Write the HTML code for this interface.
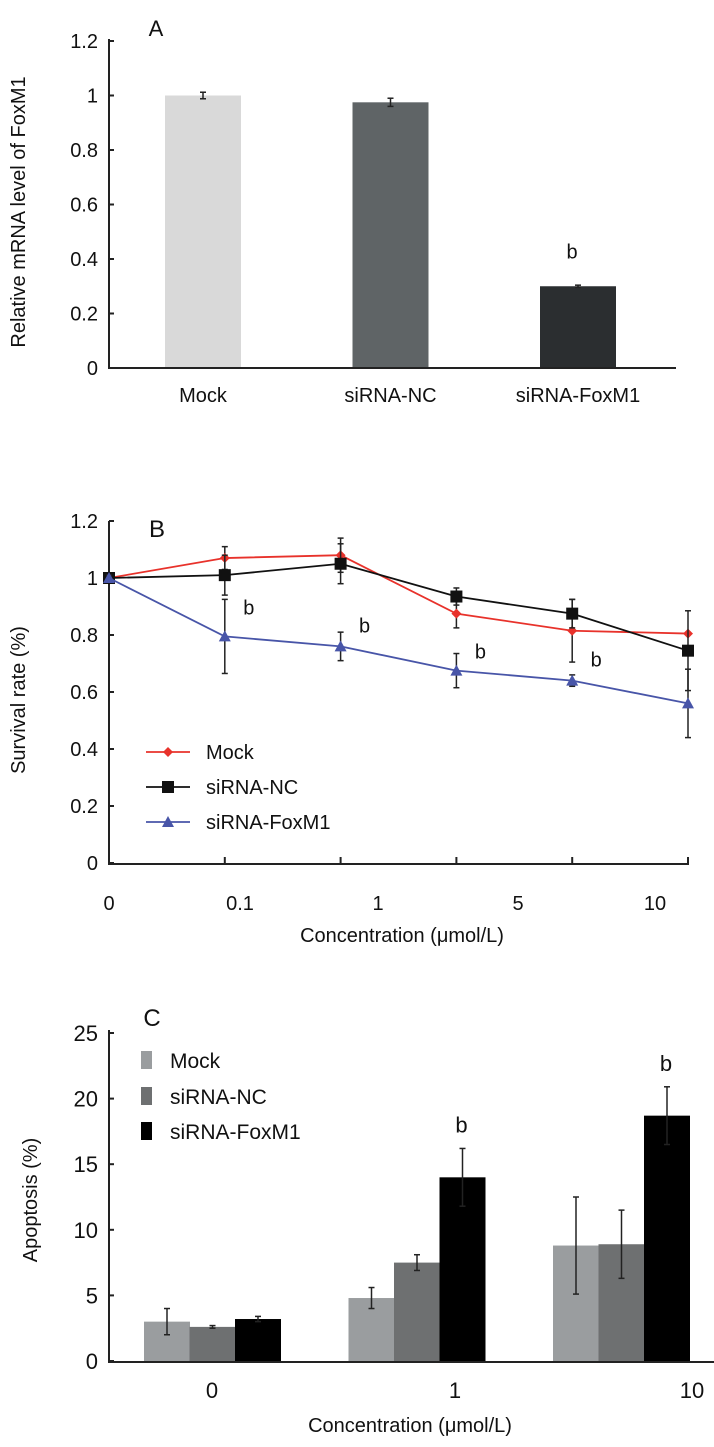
<!DOCTYPE html>
<html><head><meta charset="utf-8">
<style>
html,body{margin:0;padding:0;background:#fff;}
svg{display:block;font-family:"Liberation Sans",sans-serif;}
text{fill:#111;}
</style></head>
<body>
<svg id="fig" width="714" height="1447" viewBox="0 0 714 1447"></svg>
<script>
// Panel A data
const aCats = ["Mock","siRNA-NC","siRNA-FoxM1"];
const aVals = [1.0, 0.975, 0.30];
const aErr = [0.012, 0.015, 0.004];
const aTicks = [0,0.2,0.4,0.6,0.8,1,1.2];
const aTickLabels = ["0","0.2","0.4","0.6","0.8","1","1.2"];
// Panel B data
const bCats = ["0","0.1","1","5","10"];
const bMock = [1.0, 1.07, 1.08, 0.875, 0.815, 0.805];
const bMockErr = [0.01, 0.04, 0.06, 0.05, 0.11, 0.0];
const bNC = [1.0, 1.01, 1.05, 0.935, 0.875, 0.745];
const bNCErr = [0.01, 0.07, 0.07, 0.03, 0.05, 0.14];
const bFox = [1.0, 0.795, 0.76, 0.675, 0.64, 0.56];
const bFoxErr = [0.01, 0.13, 0.05, 0.06, 0.02, 0.12];
const bTicks = [0,0.2,0.4,0.6,0.8,1,1.2];
const bTickLabels = ["0","0.2","0.4","0.6","0.8","1","1.2"];
// Panel C data
const cCats = ["0","1","10"];
const cMock = [3.0, 4.8, 8.8];
const cMockErr = [1.0, 0.8, 3.7];
const cNC = [2.6, 7.5, 8.9];
const cNCErr = [0.1, 0.6, 2.6];
const cFox = [3.2, 14.0, 18.7];
const cFoxErr = [0.2, 2.2, 2.2];
const cTicks = [0,5,10,15,20,25];

const NS="http://www.w3.org/2000/svg";
const svg=document.getElementById('fig');
function el(tag,attrs,parent){const e=document.createElementNS(NS,tag);for(const k in attrs)e.setAttribute(k,attrs[k]);(parent||svg).appendChild(e);return e;}
function txt(s,x,y,size,anchor,parent){const t=el('text',{x:x,y:y,'font-size':size,'text-anchor':anchor||'middle'},parent);t.textContent=s;return t;}
function errbar(g,x,y1,y2,cap,col){el('line',{x1:x,x2:x,y1:y1,y2:y2,stroke:col,'stroke-width':1.5},g);el('line',{x1:x-cap,x2:x+cap,y1:y1,y2:y1,stroke:col,'stroke-width':1.5},g);el('line',{x1:x-cap,x2:x+cap,y1:y2,y2:y2,stroke:col,'stroke-width':1.5},g);}

// ===== Panel A =====
(function(){
const g=el('g',{});


const y=v=>368-v*(368-41)/1.2;
const x=i=>203+i*187.5;
const cols=["#d9d9d9","#5f6466","#2b2e30"];
aVals.forEach((v,i)=>{
  const r=el('rect',{x:x(i)-38,y:y(v),width:76,height:368-y(v),fill:cols[i]},g);
  
  
  errbar(g,x(i),y(v+aErr[i]),y(v-aErr[i]),3,'#222');
  const l=txt(aCats[i],x(i),402,20,'middle',g);
  
  
});
el('line',{x1:109,x2:109,y1:39,y2:368,stroke:'#222','stroke-width':2},g);
el('line',{x1:108,x2:676,y1:368,y2:368,stroke:'#222','stroke-width':2},g);
aTicks.forEach((t,i)=>{el('line',{x1:109,x2:114,y1:y(t),y2:y(t),stroke:'#222','stroke-width':2},g);
 const l=txt(aTickLabels[i],98,y(t)+7,20,'end',g);
 
 });
const tt=txt('Relative mRNA level of FoxM1',0,0,20,'middle',g);tt.setAttribute('transform','translate(25,212) rotate(-90)');


const p=txt('A',156,36,22,'middle',g);


const b=txt('b',x(2)-6,y(0.3)-28,20,'middle',g);


})();

// ===== Panel B =====
(function(){
const g=el('g',{});


const y=v=>863-v*(863-521)/1.2;
const x=i=>109+i*115.8;
el('line',{x1:109,x2:109,y1:521,y2:864,stroke:'#222','stroke-width':2},g);
el('line',{x1:108,x2:689,y1:864,y2:864,stroke:'#222','stroke-width':2},g);
bTicks.forEach((t,i)=>{el('line',{x1:109,x2:114,y1:y(t),y2:y(t),stroke:'#222','stroke-width':2},g);
 const l=txt(bTickLabels[i],98,y(t)+7,20,'end',g);
 
 });
for(let i=1;i<=5;i++)el('line',{x1:x(i),x2:x(i),y1:857,y2:864,stroke:'#222','stroke-width':2},g);
const labX=[109,240,378,518,655];
bCats.forEach((c,i)=>{const l=txt(c,labX[i],910,20,'middle',g);
 
 });
const xt=txt('Concentration (μmol/L)',402,942,20,'middle',g);


const yt=txt('Survival rate (%)',0,0,20,'middle',g);yt.setAttribute('transform','translate(25,700) rotate(-90)');


const p=txt('B',157,537,24,'middle',g);


const series=[[bMock,bMockErr,'#e8322b','diamond','series-mock'],[bNC,bNCErr,'#111','square','series-sirna-nc'],[bFox,bFoxErr,'#4855a8','triangle','series-sirna-foxm1']];
function marker(type,cx,cy,col,gg){
 if(type==='diamond')return el('polygon',{points:`${cx},${cy-5} ${cx+5},${cy} ${cx},${cy+5} ${cx-5},${cy}`,fill:col},gg);
 if(type==='square')return el('rect',{x:cx-6,y:cy-6,width:12,height:12,fill:col},gg);
 return el('polygon',{points:`${cx},${cy-6} ${cx+6},${cy+5} ${cx-6},${cy+5}`,fill:col},gg);}
series.forEach(s=>{
 const sg=el('g',{},g);
 
 
 s[0].forEach((v,i)=>{if(s[1][i]>0.005)errbar(sg,x(i),y(v+s[1][i]),y(v-s[1][i]),3,'#222');});
 el('polyline',{points:s[0].map((v,i)=>x(i)+','+y(v)).join(' '),fill:'none',stroke:s[2],'stroke-width':1.8},sg);
 s[0].forEach((v,i)=>{const m=marker(s[3],x(i),y(v),s[2],sg);
  
  });
});
const bIdx=[1,2,3,4];
const bOff=[0,-22,-14,-12,-14];
bIdx.forEach(i=>{
 const l=txt('b',x(i)+24,y(bFox[i])+bOff[i],20,'middle',g);
 
 });
const leg=[['Mock','#e8322b','diamond',752],['siRNA-NC','#111','square',787],['siRNA-FoxM1','#4855a8','triangle',822]];
leg.forEach(L=>{const lg=el('g',{},g);
 
 
 el('line',{x1:146,x2:190,y1:L[3],y2:L[3],stroke:L[1],'stroke-width':1.8},lg);
 marker(L[2],168,L[3],L[1],lg);
 txt(L[0],206,L[3]+7,20,'start',lg);});
})();

// ===== Panel C =====
(function(){
const g=el('g',{});


const y=v=>1361-v*(1361-1033)/25;
const gx=i=>212+i*204.5;
const cols=['#9a9d9f','#6e7071','#000'];
const sets=[[cMock,cMockErr],[cNC,cNCErr],[cFox,cFoxErr]];
const names=['mock','sirna-nc','sirna-foxm1'];
sets.forEach((s,k)=>{s[0].forEach((v,i)=>{
 const bx=gx(i)-68+k*45.5;
 const r=el('rect',{x:bx,y:y(v),width:46,height:1361-y(v),fill:cols[k]},g);
 
 
 errbar(g,bx+23,y(v+s[1][i]),y(Math.max(0,v-s[1][i])),3,'#222');
});});
el('line',{x1:109,x2:109,y1:1030,y2:1362,stroke:'#222','stroke-width':2},g);
el('line',{x1:108,x2:714,y1:1362,y2:1362,stroke:'#222','stroke-width':2},g);
cTicks.forEach(t=>{el('line',{x1:109,x2:114,y1:y(t),y2:y(t),stroke:'#222','stroke-width':2},g);
 const l=txt(String(t),98,y(t)+8,22,'end',g);
 
 });
const labX=[212,455,692];
cCats.forEach((c,i)=>{const l=txt(c,labX[i],1398,22,'middle',g);
 
 });
const xt=txt('Concentration (μmol/L)',410,1432,20,'middle',g);


const yt=txt('Apoptosis (%)',0,0,20,'middle',g);yt.setAttribute('transform','translate(37,1200) rotate(-90)');


const p=txt('C',152,1026,24,'middle',g);


[1,2].forEach(i=>{const l=txt('b',gx(i)+45,y(cFox[i]+cFoxErr[i])-16,22,'middle',g);
 
 });
const leg=[['Mock',cols[0],1060],['siRNA-NC',cols[1],1096],['siRNA-FoxM1',cols[2],1131]];
leg.forEach(L=>{const lg=el('g',{},g);
 
 
 el('rect',{x:141,y:L[2]-9,width:11,height:18,fill:L[1]},lg);
 txt(L[0],170,L[2]+8,21,'start',lg);});
})();
</script>
</body></html>
